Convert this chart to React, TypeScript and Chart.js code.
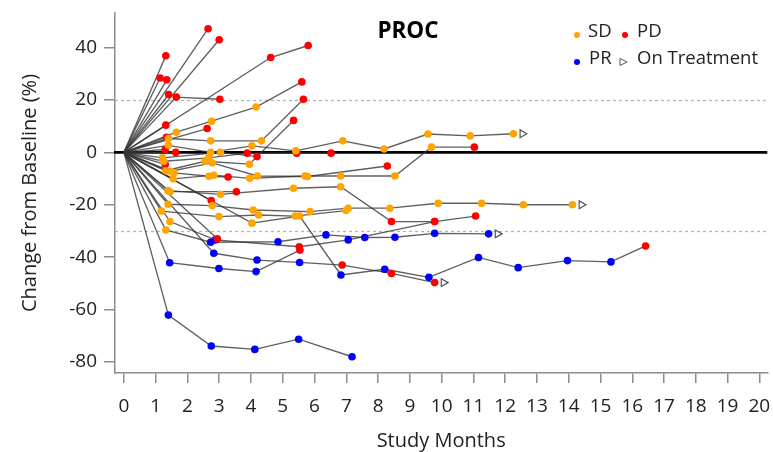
import React, { useEffect, useRef } from 'react';
import { Chart, registerables } from 'chart.js';

Chart.register(...registerables);

type Status = 'SD' | 'PD' | 'PR';
type Visit = [number, number, Status];

// Each patient: visits as [study month, % change from baseline, response]
const pt01: Visit[] = [[2.65, 47.2, 'PD']];
const pt02: Visit[] = [[3.0, 43.0, 'PD']];
const pt03: Visit[] = [[1.32, 36.9, 'PD']];
const pt04: Visit[] = [[1.14, 28.4, 'PD']];
const pt05: Visit[] = [[1.35, 27.7, 'PD']];
const pt06: Visit[] = [[1.41, 22.1, 'PD']];
const pt07: Visit[] = [[1.65, 21.1, 'PD'], [3.02, 20.3, 'PD']];
const pt08: Visit[] = [[4.62, 36.2, 'PD'], [5.8, 40.8, 'PD']];
const pt09: Visit[] = [[1.65, 7.7, 'SD'], [2.76, 11.9, 'SD'], [4.16, 17.3, 'SD'], [5.6, 26.9, 'PD']];
const pt10: Visit[] = [[1.32, 10.4, 'PD']];
const pt11: Visit[] = [[2.62, 9.1, 'PD']];
const pt12: Visit[] = [[1.34, 5.8, 'PD']];
const pt13: Visit[] = [[1.4, 5.3, 'SD'], [2.73, 4.4, 'SD'], [4.33, 4.4, 'SD'], [5.65, 20.3, 'PD']];
const pt14: Visit[] = [[1.4, 2.7, 'SD'], [2.73, 0.0, 'SD'], [4.03, 2.5, 'SD'], [5.41, 0.6, 'SD'], [6.89, 4.4, 'SD'], [8.19, 1.3, 'SD'], [9.57, 7.0, 'SD'], [10.9, 6.3, 'SD'], [12.26, 7.1, 'SD']];
const pt15: Visit[] = [[1.3, 1.1, 'PD']];
const pt16: Visit[] = [[1.63, 0.0, 'PD']];
const pt17: Visit[] = [[1.21, -2.1, 'SD'], [3.04, 0.0, 'SD'], [4.19, -1.6, 'PD']];
const pt18: Visit[] = [[1.26, -3.4, 'SD'], [2.67, -2.1, 'SD'], [3.88, -0.3, 'PD'], [5.44, -0.3, 'PD'], [6.52, -0.3, 'PD']];
const pt19: Visit[] = [[1.3, -4.6, 'PD']];
const pt20: Visit[] = [[1.32, -7.0, 'SD'], [2.55, -3.4, 'SD'], [3.95, -4.5, 'SD'], [5.34, 12.2, 'PD']];
const pt21: Visit[] = [[1.47, -7.2, 'SD'], [2.78, -4.0, 'SD'], [4.2, -9.0, 'SD'], [5.78, -9.2, 'SD'], [8.29, -5.2, 'PD']];
const pt22: Visit[] = [[1.58, -7.8, 'SD'], [2.67, -9.1, 'SD'], [3.28, -9.4, 'PD']];
const pt23: Visit[] = [[1.55, -10.1, 'SD'], [2.83, -8.7, 'SD'], [3.96, -9.9, 'SD'], [5.7, -9.0, 'SD'], [6.82, -9.0, 'SD'], [8.53, -9.0, 'SD'], [9.68, 2.0, 'SD'], [11.03, 2.0, 'PD']];
const pt24: Visit[] = [[1.39, -14.6, 'SD'], [3.04, -16.0, 'SD'], [5.34, -13.7, 'SD'], [6.82, -13.1, 'SD'], [8.42, -26.4, 'PD'], [9.78, -26.4, 'PD']];
const pt25: Visit[] = [[1.45, -15.0, 'SD'], [3.54, -15.0, 'PD']];
const pt26: Visit[] = [[1.39, -19.8, 'SD'], [2.78, -20.3, 'SD'], [4.07, -22.0, 'SD'], [5.86, -22.6, 'SD'], [7.06, -21.3, 'SD'], [8.37, -21.3, 'SD'], [9.89, -19.4, 'SD'], [11.26, -19.4, 'SD'], [12.57, -20.0, 'SD'], [14.12, -20.0, 'SD']];
const pt27: Visit[] = [[2.75, -18.4, 'PD']];
const pt28: Visit[] = [[1.18, -22.4, 'SD'], [2.99, -24.5, 'SD'], [4.24, -23.9, 'SD'], [5.39, -24.3, 'SD'], [6.99, -22.2, 'SD']];
const pt29: Visit[] = [[1.45, -26.4, 'SD'], [2.88, -33.4, 'PR'], [5.52, -36.0, 'PD'], [7.06, -33.4, 'PR'], [9.78, -26.4, 'PD'], [11.07, -24.3, 'PD']];
const pt30: Visit[] = [[1.32, -29.6, 'SD'], [2.73, -34.3, 'PR'], [4.85, -34.1, 'PR'], [6.36, -31.5, 'PR'], [7.58, -32.5, 'PR'], [8.53, -32.4, 'PR'], [9.78, -30.9, 'PR'], [11.48, -31.1, 'PR']];
const pt31: Visit[] = [[2.94, -33.0, 'PD']];
const pt32: Visit[] = [[2.83, -38.5, 'PR'], [4.19, -41.1, 'PR'], [5.53, -42.0, 'PR'], [6.87, -43.0, 'PD'], [8.42, -46.2, 'PD'], [9.78, -49.7, 'PD']];
const pt33: Visit[] = [[1.44, -42.1, 'PR'], [2.99, -44.3, 'PR'], [4.16, -45.5, 'PR'], [5.54, -37.3, 'PD']];
const pt34: Visit[] = [[1.4, -62.1, 'PR'], [2.75, -73.9, 'PR'], [4.12, -75.2, 'PR'], [5.5, -71.3, 'PR'], [7.18, -78.0, 'PR']];
const pt35: Visit[] = [[4.03, -27.0, 'SD'], [5.53, -24.3, 'SD'], [6.83, -46.8, 'PR'], [8.21, -44.6, 'PR'], [9.6, -47.7, 'PR'], [11.16, -40.1, 'PR'], [12.41, -44.0, 'PR'], [13.96, -41.3, 'PR'], [15.33, -41.8, 'PR'], [16.42, -35.7, 'PD']];

const PATIENTS: Visit[][] = [
  pt01, pt02, pt03, pt04, pt05, pt06, pt07, pt08, pt09, pt10,
  pt11, pt12, pt13, pt14, pt15, pt16, pt17, pt18, pt19, pt20,
  pt21, pt22, pt23, pt24, pt25, pt26, pt27, pt28, pt29, pt30,
  pt31, pt32, pt33, pt34, pt35,
];
const ON_TREATMENT: Visit[][] = [pt14, pt26, pt30, pt32];

const X_TICKS = [0, 1, 2, 3, 4, 5, 6, 7, 8, 9, 10, 11, 12, 13, 14, 15, 16, 17, 18, 19, 20];
const Y_TICKS = [-80, -60, -40, -20, 0, 20, 40];
const REF_LINES = [20, -30];
const STATUSES: Status[] = ['SD', 'PD', 'PR'];
const STATUS_COLORS: Record<Status, string> = { SD: '#FFA500', PD: '#FF0000', PR: '#0000FF' };

const FONT = '"Open Sans", "DejaVu Sans", sans-serif';
const AXIS_COLOR = '#8c8c8c';
const TEXT_COLOR = '#222222';
const LINE_COLOR = 'rgba(55,55,55,0.8)';

const refLinesPlugin = {
  id: 'refLines',
  beforeDatasetsDraw(chart: any) {
    const { ctx, chartArea, scales } = chart;
    ctx.save();
    ctx.strokeStyle = '#b4b4b4';
    ctx.lineWidth = 1.3;
    ctx.setLineDash([3, 3]);
    REF_LINES.forEach((v) => {
      const y = Math.round(scales.y.getPixelForValue(v)) + 0.5;
      ctx.beginPath();
      ctx.moveTo(chartArea.left, y);
      ctx.lineTo(chartArea.right, y);
      ctx.stroke();
    });
    ctx.setLineDash([]);
    ctx.strokeStyle = '#000';
    ctx.lineWidth = 2.6;
    const y0 = scales.y.getPixelForValue(0);
    ctx.beginPath();
    ctx.moveTo(chartArea.left - 1, y0);
    ctx.lineTo(chartArea.right, y0);
    ctx.stroke();
    ctx.restore();
  },
};

const annotationPlugin = {
  id: 'annotations',
  afterDraw(chart: any) {
    const { ctx } = chart;
    ctx.save();
    ctx.fillStyle = '#000';
    ctx.font = `bold 22.5px ${FONT}`;
    ctx.textAlign = 'center';
    ctx.textBaseline = 'middle';
    ctx.fillText('PROC', 408, 32);

    ctx.font = `18.5px ${FONT}`;
    ctx.textAlign = 'left';
    const dot = (x: number, y: number, c: string) => {
      ctx.beginPath();
      ctx.arc(x, y, 3, 0, Math.PI * 2);
      ctx.fillStyle = c;
      ctx.fill();
    };
    dot(577, 35, STATUS_COLORS.SD);
    dot(625, 35, STATUS_COLORS.PD);
    dot(577, 62, STATUS_COLORS.PR);
    ctx.beginPath();
    ctx.moveTo(620, 58.5);
    ctx.lineTo(627, 62);
    ctx.lineTo(620, 65.5);
    ctx.closePath();
    ctx.fillStyle = '#fff';
    ctx.fill();
    ctx.strokeStyle = '#555';
    ctx.lineWidth = 1;
    ctx.stroke();
    ctx.fillStyle = TEXT_COLOR;
    ctx.fillText('SD', 588, 32);
    ctx.fillText('PD', 637, 32);
    ctx.fillText('PR', 589, 59);
    ctx.fillText('On Treatment', 637, 59);
    ctx.restore();
  },
};

export default function App() {
  const ref = useRef<HTMLCanvasElement>(null);

  useEffect(() => {
    document.body.style.margin = '0';
    const canvas = ref.current;
    if (!canvas) return;

    const lineSets = PATIENTS.map((p) => ({
      data: [{ x: 0, y: 0 }, ...p.map((v) => ({ x: v[0], y: v[1] }))],
      showLine: true,
      borderColor: LINE_COLOR,
      borderWidth: 1.35,
      pointRadius: 0,
      pointHoverRadius: 0,
      order: 10,
    }));

    const pointSets = STATUSES.map((s) => ({
      data: PATIENTS.flatMap((p) => p.filter((v) => v[2] === s).map((v) => ({ x: v[0], y: v[1] }))),
      showLine: false,
      pointRadius: 3.8,
      backgroundColor: STATUS_COLORS[s],
      borderWidth: 0,
      order: 1,
    }));

    const triSet = {
      data: ON_TREATMENT.map((p) => {
        const last = p[p.length - 1];
        return { x: last[0] + 0.28, y: last[1] };
      }),
      showLine: false,
      pointStyle: 'triangle',
      rotation: 90,
      pointRadius: 4.5,
      backgroundColor: '#ffffff',
      borderColor: '#555555',
      borderWidth: 1.2,
      order: 1,
    };

    const chart = new Chart(canvas, {
      type: 'scatter',
      data: { datasets: [...lineSets, ...pointSets, triSet] as any },
      options: {
        responsive: false,
        animation: false,
        layout: { padding: { top: 13, right: 5, left: 0, bottom: 0 } },
        plugins: { legend: { display: false }, tooltip: { enabled: false } },
        scales: {
          x: {
            type: 'linear',
            min: -0.28,
            max: 20.25,
            afterBuildTicks: (s: any) => {
              s.ticks = X_TICKS.map((v) => ({ value: v }));
            },
            afterFit: (s: any) => {
              s.height = 79;
              s.paddingLeft = 0;
              s.paddingRight = 0;
            },
            grid: { drawOnChartArea: false, drawTicks: true, tickLength: 10, color: AXIS_COLOR, lineWidth: 1.5 },
            border: { display: true, color: AXIS_COLOR, width: 1.5 },
            ticks: { font: { family: FONT, size: 19 }, color: TEXT_COLOR, padding: 12, maxRotation: 0, autoSkip: false },
            title: {
              display: true,
              text: 'Study Months',
              font: { family: FONT, size: 20, lineHeight: 1 },
              color: TEXT_COLOR,
              padding: { top: 0, bottom: 1 },
            },
          },
          y: {
            type: 'linear',
            min: -84.2,
            max: 53.2,
            afterBuildTicks: (s: any) => {
              s.ticks = Y_TICKS.map((v) => ({ value: v }));
            },
            afterFit: (s: any) => {
              s.width = 115;
              s.paddingTop = 0;
              s.paddingBottom = 0;
            },
            grid: { drawOnChartArea: false, drawTicks: true, tickLength: 11, color: AXIS_COLOR, lineWidth: 1.5 },
            border: { display: true, color: AXIS_COLOR, width: 1.5 },
            ticks: { font: { family: FONT, size: 19 }, color: TEXT_COLOR, padding: 7 },
            title: {
              display: true,
              text: 'Change from Baseline (%)',
              font: { family: FONT, size: 20, lineHeight: 1 },
              color: TEXT_COLOR,
              padding: { top: 20, bottom: 0 },
            },
          },
        },
      },
      plugins: [refLinesPlugin, annotationPlugin],
    });

    return () => chart.destroy();
  }, []);

  return <canvas ref={ref} width={773} height={452} style={{ display: 'block', width: 773, height: 452 }} />;
}
